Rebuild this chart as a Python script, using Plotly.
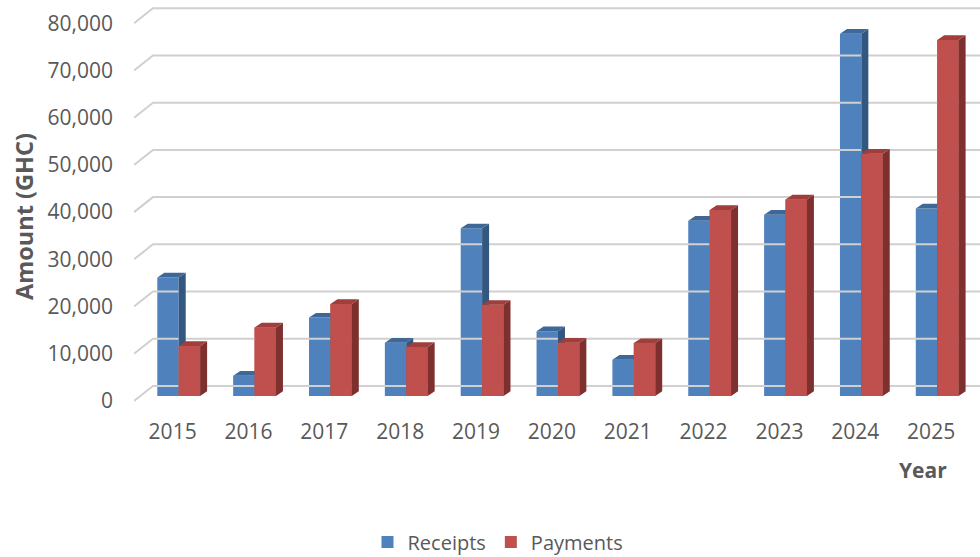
import plotly.graph_objects as go

# ---- data ----
years = [2015, 2016, 2017, 2018, 2019, 2020, 2021, 2022, 2023, 2024, 2025]
receipts = [25100, 4300, 16600, 11300, 35500, 13700, 7700, 37100, 38400, 76700, 39700]
payments = [10600, 14500, 19500, 10400, 19300, 11300, 11200, 39400, 41600, 51300, 75400]
y_ticks = [0, 10000, 20000, 30000, 40000, 50000, 60000, 70000, 80000]
y_tick_labels = ["0", "10,000", "20,000", "30,000", "40,000", "50,000", "60,000", "70,000", "80,000"]

# ---- geometry (pixel-based pseudo 3D) ----
W, H = 980, 557
ML, MR, MT, MB = 134, 0, 5, 152
PX_PER_CAT = 75.85
PX_PER_UNIT = 0.004722
X0_PX = 178.7
Y0_PX = 396.0

x_lo = (ML - X0_PX) / PX_PER_CAT
x_hi = (W - MR - X0_PX) / PX_PER_CAT
y_lo = -((H - MB) - Y0_PX) / PX_PER_UNIT
y_hi = (Y0_PX - MT) / PX_PER_UNIT

DX = 7.0 / PX_PER_CAT          # depth offset, x
DY = 4.7 / PX_PER_UNIT         # depth offset, y
BW = 21.4 / PX_PER_CAT         # bar width
FRONT_SHIFT = 5.0 / PX_PER_UNIT
BACK_SHIFT = 10.0 / PX_PER_UNIT
x_wall = (153 - X0_PX) / PX_PER_CAT

BLUE, BLUE_SIDE, BLUE_TOP = "#4F81BD", "#34577F", "#3E6898"
RED, RED_SIDE, RED_TOP = "#C0504D", "#7E302F", "#A03E3C"
GRID = "#D0D0D0"
TXT = "#595959"
FONT = "Open Sans"

idx = list(range(len(years)))
PLOT_W = W - ML - MR
PLOT_H = H - MB - MT


def faces(values, offset):
    sx, sy, tx, ty, fx, fy = [], [], [], [], [], []
    for i, v in zip(idx, values):
        left = i + offset - BW / 2
        right = i + offset + BW / 2
        sx += [right, right + DX, right + DX, right, right, None]
        sy += [0, DY, v + DY, v, 0, None]
        tx += [left, right, right + DX, left + DX, left, None]
        ty += [v, v, v + DY, v + DY, v, None]
        fx += [left, right, right, left, left, None]
        fy += [0, 0, v, v, 0, None]
    return (sx, sy), (tx, ty), (fx, fy)


def poly(xy, color):
    return go.Scatter(x=xy[0], y=xy[1], mode="lines", fill="toself",
                      fillcolor=color, line=dict(width=0, color=color),
                      hoverinfo="skip", showlegend=False)


fig = go.Figure()

# back wall gridlines with diagonal side-wall ticks
gx, gy = [], []
for v in y_ticks:
    gx += [x_lo, x_wall, x_hi, None]
    gy += [v - FRONT_SHIFT, v + BACK_SHIFT, v + BACK_SHIFT, None]
fig.add_trace(go.Scatter(x=gx, y=gy, mode="lines", line=dict(color=GRID, width=2),
                         hoverinfo="skip", showlegend=False))

fig.add_trace(go.Bar(x=idx, y=receipts, name="Receipts", marker=dict(color=BLUE, line=dict(width=0))))
fig.add_trace(go.Bar(x=idx, y=payments, name="Payments", marker=dict(color=RED, line=dict(width=0))))

b_side, b_top, b_front = faces(receipts, -BW / 2)
r_side, r_top, r_front = faces(payments, BW / 2)
fig.add_trace(poly(b_side, BLUE_SIDE))
fig.add_trace(poly(b_top, BLUE_TOP))
fig.add_trace(poly(r_front, RED))
fig.add_trace(poly(r_side, RED_SIDE))
fig.add_trace(poly(r_top, RED_TOP))

fig.update_layout(
    width=W, height=H,
    margin=dict(l=ML, r=MR, t=MT, b=MB, autoexpand=False),
    paper_bgcolor="white", plot_bgcolor="white",
    font=dict(family=FONT, size=21, color=TXT),
    barmode="group", bargap=1 - 2 * BW, bargroupgap=0,
    showlegend=True,
    legend=dict(orientation="h", x=(498 - ML) / PLOT_W, xanchor="center",
                y=((H - MB) - 542) / PLOT_H, yanchor="middle",
                font=dict(family=FONT, size=20, color=TXT), traceorder="normal"),
    xaxis=dict(range=[x_lo, x_hi], tickvals=[i - 0.08 for i in idx],
               ticktext=[str(y) for y in years], showgrid=False, zeroline=False,
               showline=False, ticks="", ticklabelstandoff=12, fixedrange=True),
    yaxis=dict(range=[y_lo, y_hi], tickvals=[v - FRONT_SHIFT for v in y_ticks],
               ticktext=y_tick_labels, showgrid=False, zeroline=False,
               showline=False, ticks="", ticklabelstandoff=20, fixedrange=True),
    annotations=[
        dict(text="<b>Year</b>", xref="paper", yref="paper",
             x=(923 - ML) / PLOT_W, y=((H - MB) - 470) / PLOT_H,
             xanchor="center", yanchor="middle", showarrow=False,
             font=dict(family=FONT, size=21, color=TXT)),
        dict(text="<b>Amount (GHC)</b>", xref="paper", yref="paper",
             x=(24 - ML) / PLOT_W, y=((H - MB) - 217) / PLOT_H,
             xanchor="center", yanchor="middle", textangle=-90, showarrow=False,
             font=dict(family=FONT, size=23.5, color=TXT)),
    ],
)

fig.write_html("out.html", config={"displayModeBar": False},
               post_script="document.body.style.margin='0';")
